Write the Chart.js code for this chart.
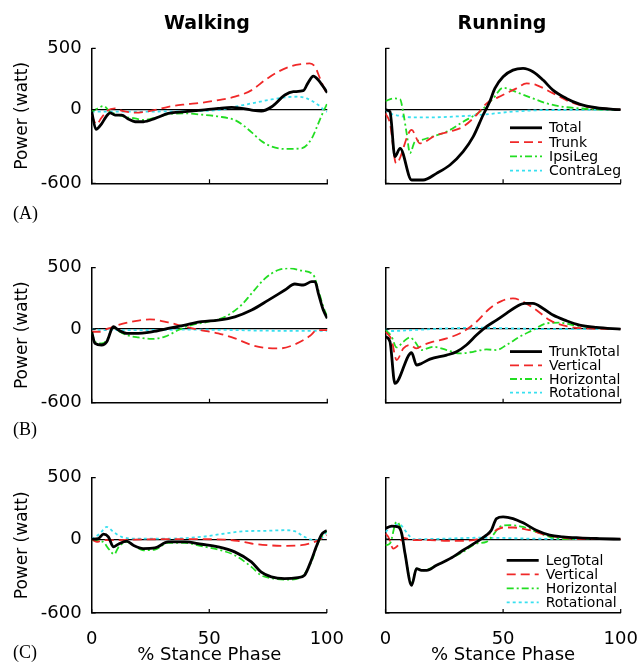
<!DOCTYPE html>
<html>
<head>
<meta charset="utf-8">
<script src="https://cdn.jsdelivr.net/npm/chart.js@4.4.0/dist/chart.umd.min.js"></script>
<style>
  html, body { margin: 0; padding: 0; background: #fff; overflow: hidden; }
  body { width: 642px; height: 663px; position: relative; font-family: "DejaVu Sans", sans-serif; }
  canvas { position: absolute; }
  .lbl { position: absolute; color: #000; z-index: 2; white-space: nowrap; }
  .head { font-weight: bold; font-size: 19px; line-height: 24px; width: 200px; text-align: center; }
  .tag { font-family: "Liberation Serif", "Times New Roman", serif; font-size: 18px; line-height: 20px; }
</style>
</head>
<body>
<div class="lbl head" style="left:107px; top:10px;">Walking</div>
<div class="lbl head" style="left:402px; top:10px;">Running</div>
<div class="lbl tag" style="left:13px; top:203px;">(A)</div>
<div class="lbl tag" style="left:13px; top:419px;">(B)</div>
<div class="lbl tag" style="left:13px; top:642px;">(C)</div>

<canvas id="wa" width="352" height="180" style="left:0; top:25px;"></canvas>
<canvas id="ra" width="340" height="180" style="left:340px; top:25px;"></canvas>
<canvas id="wb" width="352" height="180" style="left:0; top:245px;"></canvas>
<canvas id="rb" width="340" height="180" style="left:340px; top:245px;"></canvas>
<canvas id="wc" width="352" height="211" style="left:0; top:455px;"></canvas>
<canvas id="rc" width="340" height="211" style="left:340px; top:455px;"></canvas>

<script>
// axis ticks
var xTicks = [0, 50, 100];
var yTicks = [-600, 0, 500];

// legend labels
var labelsA = ['Total', 'Trunk', 'IpsiLeg', 'ContraLeg'];
var labelsB = ['TrunkTotal', 'Vertical', 'Horizontal', 'Rotational'];
var labelsC = ['LegTotal', 'Vertical', 'Horizontal', 'Rotational'];

// (A) walking  [% stance, watt]
var walkA_total = [[0,-16],[1.8,-160],[4.2,-115],[6,-60],[7.8,-25],[9.9,-44],[12.7,-44],[15.5,-75],[18.4,-98],[22,-98],[26.9,-71],[32.5,-30],[39.6,-16],[46.7,-3],[53.7,11],[59.4,19],[63.6,11],[67.9,-3],[72,-11],[76.4,24],[82,120],[85.6,147],[89.8,155],[91.7,215],[94.1,274],[96.2,242],[98.3,187],[100,139]];
var walkA_trunk = [[0,-43],[2,-120],[4,-70],[6.5,-10],[9.9,11],[13,-10],[18.4,-24],[25.5,-8],[32.5,24],[39.6,43],[46.7,57],[53.7,79],[60.8,106],[67.9,160],[73.6,242],[79.2,310],[84.9,356],[89.1,372],[92.5,378],[94.8,350],[96.9,255],[99,160],[100,133]];
var walkA_ipsi = [[0,-16],[2.5,10],[5,30],[7.8,-16],[11.3,-43],[14.5,-60],[18.4,-71],[22,-84],[27.6,-62],[32.5,-35],[39.6,-30],[46.7,-40],[53.7,-55],[60.8,-85],[64.5,-130],[67.9,-185],[72,-255],[76.4,-300],[82,-320],[89.1,-315],[93.4,-234],[96.2,-111],[98.3,-16],[100,52]];
var walkA_contra = [[0,-16],[10,-16],[20,-16],[30,-14],[40,-12],[53.7,-3],[60.8,24],[67.9,52],[75,79],[82,101],[87.3,106],[91.3,92],[96.2,38],[99,-8],[100,-16]];

// (A) running
var runA_total = [[0,0],[1.9,-16],[4,-383],[6.2,-315],[11.1,-573],[16,-573],[21.7,-519],[27.4,-451],[33,-342],[37.3,-220],[41.5,-43],[44.3,65],[46.5,174],[50,269],[54.2,323],[58.5,337],[62.7,310],[67,242],[71.2,160],[76.9,92],[82.5,46],[89.6,16],[96.7,3],[100,0]];
var runA_trunk = [[0,-30],[1.9,-111],[4.5,-437],[11.1,-165],[14.6,-274],[21.7,-206],[27,-180],[33,-138],[38.7,-43],[43,52],[47.8,101],[55.7,174],[60,215],[64.2,201],[71.3,133],[78.4,65],[85.5,24],[92.5,11],[100,0]];
var runA_ipsi = [[0,70],[3.3,92],[6.2,85],[7.6,-30],[9,-193],[10.4,-354],[12.5,-261],[14.6,-250],[18.9,-225],[26,-179],[33,-98],[40.1,-16],[45.8,92],[50,179],[52.8,166],[57.1,133],[62.7,92],[68.4,52],[75.5,24],[82.5,11],[89.6,3],[100,0]];
var runA_contra = [[0,0],[2,-30],[6,-50],[11.8,-62],[20,-62],[30,-55],[40,-43],[54,-16],[68,-3],[80,-2],[100,0]];

// (B) walking
var walkB_total = [[0,-22],[1.4,-117],[4.2,-130],[6.4,-103],[9.2,19],[11.3,-8],[14.9,-35],[18.4,-35],[25.5,-22],[32.5,5],[39.6,33],[46.7,60],[53.7,73],[60.8,100],[67.9,155],[75,236],[82,318],[86.2,367],[89.8,359],[93.4,386],[94.8,386],[96.2,291],[98.3,155],[100,87]];
var walkB_vert = [[0,-22],[3,-22],[7.1,5],[11.3,33],[18.4,65],[24.7,79],[32.5,54],[39.6,19],[46.7,-10],[53.7,-35],[60.8,-76],[67.9,-130],[75,-155],[80,-157],[85.6,-130],[92.7,-55],[95.5,-10],[100,-8]];
var walkB_horiz = [[0,-22],[1.4,-103],[4.2,-117],[6.4,-90],[9.2,14],[11.9,-22],[14.9,-49],[19.8,-68],[25.5,-80],[31.1,-62],[36.8,-8],[42.4,33],[49.5,60],[56.6,100],[63.6,196],[67.9,291],[73.6,413],[79.2,481],[84.2,494],[89.1,476],[94.1,440],[96.2,318],[98.3,182],[100,100]];
var walkB_rot = [[0,0],[5,-8],[20,-8],[40,-5],[60,-8],[70,-12],[80,-14],[90,-14],[100,-14]];

// (B) running
var runB_total = [[0,-62],[1.9,-103],[4,-443],[11.1,-193],[13.2,-293],[15.3,-280],[18.9,-245],[26,-212],[30.2,-185],[34.4,-130],[38.7,-49],[42.9,19],[47.2,73],[51.4,128],[55.6,182],[59.2,209],[62.7,209],[67,168],[71.2,114],[76.9,68],[82.5,33],[89.6,14],[100,0]];
var runB_vert = [[0,-22],[2.6,-90],[4.7,-253],[7.6,-158],[10.4,-130],[13.2,-158],[16,-130],[20.3,-103],[26,-76],[33,-22],[38.7,60],[44.3,168],[49.3,228],[54.2,250],[58.5,223],[64.1,155],[69.8,73],[76.9,24],[85.4,5],[100,0]];
var runB_horiz = [[0,-8],[2.6,-62],[4.7,-150],[7.6,-103],[10.4,-68],[12.5,-103],[15.3,-171],[20.3,-144],[26,-171],[31.6,-198],[37.3,-185],[42.9,-166],[47.2,-171],[51.4,-130],[57.1,-62],[62.7,-8],[68.4,46],[74,52],[79.7,33],[85.4,19],[92.4,5],[100,0]];
var runB_rot = [[0,0],[2,-16],[11.8,-8],[26,5],[40,11],[54,5],[68,0],[100,0]];

// (C) walking
var walkC_total = [[0,0],[2.8,5],[5,41],[7.1,19],[9.2,-62],[11.3,-41],[14.9,-16],[17.7,-49],[21.9,-76],[26.9,-71],[32.5,-22],[39.6,-22],[46.7,-41],[53.7,-62],[60.8,-103],[67.9,-185],[72,-266],[76.4,-307],[82,-321],[87.7,-312],[90.5,-293],[93.4,-171],[95.5,-62],[97.6,33],[99,60],[100,70]];
var walkC_vert = [[0,0],[2.1,-22],[4.9,-8],[8.5,-8],[18.4,-3],[32.5,0],[46.7,0],[56.6,-3],[62.2,-14],[67.9,-35],[75,-49],[82,-54],[89.1,-49],[94.8,-22],[97.6,5],[100,33]];
var walkC_horiz = [[0,-8],[2.8,-14],[4.9,-22],[7.1,-76],[9.6,-122],[11.3,-68],[14.9,-22],[18.4,-57],[21.9,-90],[26.9,-84],[32.5,-30],[39.6,-30],[46.7,-57],[53.7,-84],[60.8,-130],[67.9,-225],[72,-293],[77.8,-321],[83.5,-329],[89.1,-307],[93.4,-185],[96.2,-35],[98.3,33],[100,68]];
var walkC_rot = [[0,0],[3.5,46],[6.4,100],[9.2,60],[12.7,19],[18.4,5],[32.5,5],[46.7,19],[56.6,46],[65,65],[73.6,68],[82,73],[86.3,65],[90.5,19],[94.8,-8],[97.6,5],[100,60]];

// (C) running
var runC_total = [[0,87],[2.6,106],[5.4,100],[6.9,46],[8.3,-117],[11.1,-375],[13.2,-239],[15.3,-253],[17.5,-253],[21.7,-212],[27.4,-158],[33,-90],[38.7,-22],[42.9,33],[45,73],[47.2,168],[50,182],[54.2,168],[58.5,133],[64.1,73],[69.8,33],[75.4,19],[82.5,11],[91,5],[100,0]];
var runC_vert = [[0,46],[1.2,19],[3.3,-76],[5.4,-49],[7.6,10],[11.8,-8],[18.9,-8],[26,-14],[33,-14],[40.1,5],[45.7,60],[50,95],[54.2,95],[61.3,73],[68.4,33],[75.4,11],[82.5,0],[100,0]];
var runC_horiz = [[0,-49],[1.9,-35],[4.7,141],[6.2,100],[8.3,-117],[11.1,-361],[13.2,-239],[16,-253],[21.7,-212],[27.4,-158],[33,-103],[38.7,-35],[42.9,-22],[45.7,33],[48.6,100],[52.8,114],[58.5,100],[64.1,60],[69.8,19],[76.9,0],[100,0]];
var runC_rot = [[0,60],[3,110],[6,120],[8,80],[10,30],[12,0],[26,5],[40,12],[50,10],[60,5],[70,3],[100,0]];

var FONT = '"DejaVu Sans", sans-serif';
var styles = [
    { color: '#000000', width: 2.8, dash: [] },
    { color: '#f02828', width: 1.8, dash: [9, 5] },
    { color: '#22dd22', width: 1.8, dash: [7, 3, 2, 3] },
    { color: '#38e0f0', width: 1.8, dash: [3, 3] }
];

function makeDatasets(labels, series) {
    return series.map(function (pts, i) {
        var s = styles[i];
        return {
            label: labels[i],
            data: pts.map(function (p) { return { x: p[0], y: p[1] }; }),
            borderColor: s.color,
            borderWidth: s.width,
            borderDash: s.dash,
            pointRadius: 0,
            fill: false,
            cubicInterpolationMode: 'monotone'
        };
    });
}

// little tick marks pointing into the plot, like the original
var inwardTicks = {
    id: 'inwardTicks',
    afterDatasetsDraw: function (chart) {
        var ctx = chart.ctx, a = chart.chartArea;
        var xs = chart.scales.x, ys = chart.scales.y;
        ctx.save();
        ctx.strokeStyle = '#000';
        ctx.lineWidth = 1.2;
        ctx.setLineDash([]);
        ctx.beginPath();
        xs.ticks.forEach(function (t) {
            var p = xs.getPixelForValue(t.value);
            ctx.moveTo(p, a.bottom); ctx.lineTo(p, a.bottom - 4);
        });
        ys.ticks.forEach(function (t) {
            var p = ys.getPixelForValue(t.value);
            ctx.moveTo(a.left, p); ctx.lineTo(a.left + 4, p);
        });
        ctx.stroke();
        ctx.restore();
    }
};

// legend drawn inside the lower right of the plot
var innerLegend = {
    id: 'innerLegend',
    afterDraw: function (chart, args, opts) {
        if (!opts || !opts.show) return;
        var ctx = chart.ctx, a = chart.chartArea;
        var sets = chart.data.datasets, n = sets.length;
        var x0 = a.right - opts.dx;
        ctx.save();
        ctx.font = '14px ' + FONT;
        ctx.textBaseline = 'middle';
        ctx.textAlign = 'left';
        sets.forEach(function (d, i) {
            var y = a.bottom - opts.bottomGap - (n - 1 - i) * opts.rowGap;
            ctx.strokeStyle = d.borderColor;
            ctx.lineWidth = d.borderWidth;
            ctx.setLineDash(d.borderDash);
            ctx.beginPath();
            ctx.moveTo(x0, y); ctx.lineTo(x0 + 32, y);
            ctx.stroke();
            ctx.fillStyle = '#000';
            ctx.fillText(d.label, x0 + 39, y + 1);
        });
        ctx.restore();
    }
};

function makePanel(id, labels, series, cfg) {
    var canvas = document.getElementById(id);
    var cLeft = cfg.canvasLeft, cTop = cfg.canvasTop;
    var cW = canvas.width, cH = canvas.height;
    return new Chart(canvas.getContext('2d'), {
        type: 'line',
        data: { datasets: makeDatasets(labels, series) },
        options: {
            responsive: false,
            animation: false,
            layout: { padding: { left: 0, bottom: 0, top: cfg.top - cTop, right: cLeft + cW - cfg.right } },
            plugins: {
                legend: { display: false },
                tooltip: { enabled: false },
                innerLegend: cfg.legend || { show: false }
            },
            scales: {
                x: {
                    type: 'linear',
                    min: 0,
                    max: 100,
                    afterBuildTicks: function (s) { s.ticks = xTicks.map(function (v) { return { value: v }; }); },
                    afterFit: function (s) { s.height = cTop + cH - cfg.bottom; },
                    grid: { display: false },
                    border: { display: true, color: '#000', width: 1.5 },
                    ticks: { display: cfg.xLabels, color: '#000', font: { family: FONT, size: 18 }, padding: 8, maxRotation: 0, autoSkip: false },
                    title: { display: cfg.xLabels, text: '% Stance Phase', color: '#000', font: { family: FONT, size: 18 }, padding: { top: 0, bottom: 0 } }
                },
                y: {
                    min: -600,
                    max: 500,
                    afterBuildTicks: function (s) { s.ticks = yTicks.map(function (v) { return { value: v }; }); },
                    afterFit: function (s) { s.width = cfg.left - cLeft; },
                    grid: {
                        drawTicks: false,
                        lineWidth: 1.3,
                        color: function (c) { return c.tick && c.tick.value === 0 ? '#000' : 'rgba(0,0,0,0)'; }
                    },
                    border: { display: true, color: '#000', width: 1.5 },
                    ticks: { display: cfg.yLabels, color: '#000', font: { family: FONT, size: 18 }, padding: 10 },
                    title: { display: cfg.yLabels, text: 'Power (watt)', color: '#000', font: { family: FONT, size: 17 }, padding: { top: 12 } }
                }
            }
        },
        plugins: [inwardTicks, innerLegend]
    });
}

document.addEventListener('DOMContentLoaded', function () {
    var leftCol = { canvasLeft: 0, left: 91.7, right: 327.3, yLabels: true };
    var rightCol = { canvasLeft: 340, left: 385.5, right: 620.7, yLabels: false };
    function row(col, extra) { return Object.assign({}, col, extra); }

    makePanel('wa', labelsA, [walkA_total, walkA_trunk, walkA_ipsi, walkA_contra],
        row(leftCol, { canvasTop: 25, top: 48.4, bottom: 183.3, xLabels: false }));
    makePanel('ra', labelsA, [runA_total, runA_trunk, runA_ipsi, runA_contra],
        row(rightCol, { canvasTop: 25, top: 48.4, bottom: 183.3, xLabels: false,
            legend: { show: true, dx: 110.7, bottomGap: 12.6, rowGap: 14.3 } }));
    makePanel('wb', labelsB, [walkB_total, walkB_vert, walkB_horiz, walkB_rot],
        row(leftCol, { canvasTop: 245, top: 267.7, bottom: 402.7, xLabels: false }));
    makePanel('rb', labelsB, [runB_total, runB_vert, runB_horiz, runB_rot],
        row(rightCol, { canvasTop: 245, top: 267.7, bottom: 402.7, xLabels: false,
            legend: { show: true, dx: 110.7, bottomGap: 10, rowGap: 13.7 } }));
    makePanel('wc', labelsC, [walkC_total, walkC_vert, walkC_horiz, walkC_rot],
        row(leftCol, { canvasTop: 455, top: 477.7, bottom: 613, xLabels: true }));
    makePanel('rc', labelsC, [runC_total, runC_vert, runC_horiz, runC_rot],
        row(rightCol, { canvasTop: 455, top: 477.7, bottom: 613, xLabels: true,
            legend: { show: true, dx: 114, bottomGap: 10.7, rowGap: 14 } }));
});
</script>
</body>
</html>
